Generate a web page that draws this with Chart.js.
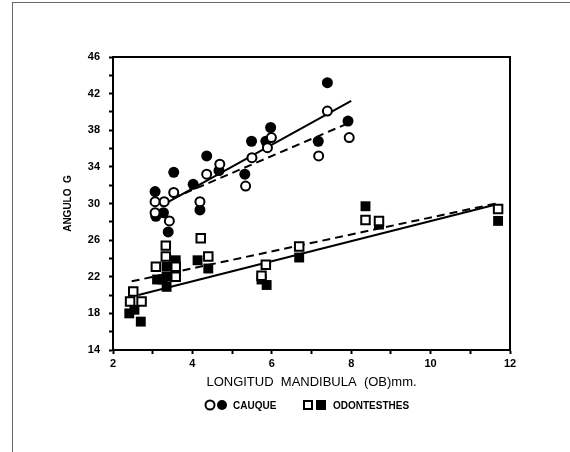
<!DOCTYPE html>
<html>
<head>
<meta charset="utf-8">
<script src="https://cdn.jsdelivr.net/npm/chart.js"></script>
<style>
  body { margin: 0; background: #fff; }
  #frame { position: absolute; left: 12px; top: 2px; width: 600px; height: 500px;
           border-left: 1px solid #666; border-top: 1px solid #666; }
  #wrap { position: absolute; left: 0; top: 0; width: 570px; height: 452px; }
</style>
</head>
<body>
<div id="frame"></div>
<div id="wrap"><canvas id="mycanvas" width="570" height="452"></canvas></div>
<script>
// Cauque (circles)
var cauqueOpenX = [3.06, 3.29, 3.53, 4.36, 4.19, 4.69, 5.34, 5.50, 5.89, 5.99, 7.18, 7.40, 7.95, 3.06, 3.42];
var cauqueOpenY = [30.2, 30.2, 31.2, 33.2, 30.2, 34.3, 31.9, 35.0, 36.1, 37.2, 35.2, 40.1, 37.2, 29.0, 28.1];
var cauqueFillX = [3.06, 3.53, 4.02, 4.36, 4.19, 4.67, 5.32, 5.49, 5.85, 5.97, 7.17, 7.40, 7.92, 3.08, 3.27, 3.39];
var cauqueFillY = [31.3, 33.4, 32.1, 35.2, 29.3, 33.6, 33.2, 36.8, 36.8, 38.3, 36.8, 43.2, 39.0, 28.6, 29.0, 26.9];

// Odontesthes (squares)
var odontOpenX = [2.51, 2.43, 2.72, 3.08, 3.33, 3.33, 3.58, 3.58, 4.21, 4.40, 5.74, 5.85, 6.69, 8.36, 8.70, 11.70];
var odontOpenY = [20.4, 19.3, 19.3, 23.1, 25.4, 24.2, 23.1, 22.0, 26.2, 24.2, 22.1, 23.3, 25.3, 28.2, 28.1, 29.4];
var odontFillX = [2.41, 2.54, 2.70, 3.11, 3.35, 3.35, 3.35, 3.58, 3.25, 4.13, 4.40, 5.74, 5.87, 6.69, 8.36, 8.70, 11.70];
var odontFillY = [18.0, 18.4, 17.1, 21.7, 23.1, 22.0, 20.9, 23.8, 21.7, 23.8, 22.9, 21.7, 21.1, 24.1, 29.7, 27.7, 28.1];

// fitted lines
var cauqueFitX = [3.2, 8.0];
var cauqueSolidY = [29.7, 41.2];
var cauqueDashY = [30.0, 38.9];
var odontSolidX = [2.64, 11.65];
var odontSolidY = [20.0, 29.9];
var odontDashX = [2.47, 11.65];
var odontDashY = [21.5, 30.0];

// ticks
var xTickLabels = [2, 4, 6, 8, 10, 12];
var yTickLabels = [14, 18, 22, 26, 30, 34, 38, 42, 46];

function pts(xs, ys) {
	var out = [];
	for (var i in xs) {
		out.push({x: xs[i], y: ys[i]});
	}
	return out;
}

var FONT = "'Liberation Sans', Arial, sans-serif";

var framePlugin = {
	id: 'frameAndKey',
	afterDraw: function(chart) {
		var ctx = chart.ctx;
		var a = chart.chartArea;
		ctx.save();
		ctx.strokeStyle = '#000';
		ctx.lineWidth = 2;
		ctx.beginPath();
		ctx.moveTo(a.left, a.top);
		ctx.lineTo(a.right, a.top);
		ctx.lineTo(a.right, a.bottom);
		ctx.stroke();

		// key below the axis title
		var y = 405;
		ctx.lineWidth = 2;
		ctx.fillStyle = '#fff';
		ctx.beginPath(); ctx.arc(210, y, 4.5, 0, Math.PI * 2); ctx.fill(); ctx.stroke();
		ctx.fillStyle = '#000';
		ctx.beginPath(); ctx.arc(222, y, 5, 0, Math.PI * 2); ctx.fill();
		ctx.fillStyle = '#fff';
		ctx.fillRect(304, y - 4, 8, 8); ctx.strokeRect(304, y - 4, 8, 8);
		ctx.fillStyle = '#000';
		ctx.fillRect(316, y - 5, 10, 10);
		ctx.font = 'bold 10px ' + FONT;
		ctx.textBaseline = 'middle';
		ctx.fillText('CAUQUE', 233, y + 1);
		ctx.fillText('ODONTESTHES', 333, y + 1);
		ctx.restore();
	}
};

var ctx = document.getElementById('mycanvas');

var chart = new Chart(ctx, {
	type: 'scatter',
	data: {
		datasets: [
			{
				label: 'Cauque',
				data: pts(cauqueOpenX, cauqueOpenY),
				pointStyle: 'circle', pointRadius: 4.5, borderWidth: 2,
				backgroundColor: '#fff', borderColor: '#000', order: 0
			},
			{
				label: 'Cauque (2)',
				data: pts(cauqueFillX, cauqueFillY),
				pointStyle: 'circle', pointRadius: 5.5, borderWidth: 0,
				backgroundColor: '#000', borderColor: '#000', order: 1
			},
			{
				label: 'Odontesthes',
				data: pts(odontOpenX, odontOpenY),
				pointStyle: 'rect', pointRadius: 6, borderWidth: 2,
				backgroundColor: '#fff', borderColor: '#000', order: 0
			},
			{
				label: 'Odontesthes (2)',
				data: pts(odontFillX, odontFillY),
				pointStyle: 'rect', pointRadius: 7, borderWidth: 0,
				backgroundColor: '#000', borderColor: '#000', order: 1
			},
			{
				type: 'line', label: 'fit1', data: pts(cauqueFitX, cauqueSolidY),
				borderColor: '#000', borderWidth: 2, pointRadius: 0, fill: false, order: 2
			},
			{
				type: 'line', label: 'fit2', data: pts(cauqueFitX, cauqueDashY),
				borderColor: '#000', borderWidth: 2, borderDash: [8, 5], pointRadius: 0, fill: false, order: 2
			},
			{
				type: 'line', label: 'fit3', data: pts(odontSolidX, odontSolidY),
				borderColor: '#000', borderWidth: 2, pointRadius: 0, fill: false, order: 2
			},
			{
				type: 'line', label: 'fit4', data: pts(odontDashX, odontDashY),
				borderColor: '#000', borderWidth: 2, borderDash: [8, 5], pointRadius: 0, fill: false, order: 2
			}
		]
	},
	options: {
		responsive: false,
		animation: false,
		layout: { padding: { left: 57, top: 57, right: 60, bottom: 59 } },
		plugins: {
			legend: { display: false },
			tooltip: { enabled: false }
		},
		scales: {
			x: {
				type: 'linear', min: 2, max: 12,
				afterFit: function(scale) { scale.height = 43; },
				border: { display: true, color: '#000', width: 2 },
				grid: { drawOnChartArea: false, drawTicks: true, tickLength: 4, tickWidth: 2, tickColor: '#000' },
				ticks: {
					stepSize: 1, padding: 3, color: '#000', maxRotation: 0, autoSkip: false,
					font: { family: FONT, size: 11, weight: 'bold' },
					callback: function(v) { return xTickLabels.indexOf(v) >= 0 ? String(v) : ''; }
				},
				title: {
					display: true, text: 'LONGITUD  MANDIBULA  (OB)mm.', color: '#000',
					font: { family: FONT, size: 13 }, padding: 3
				}
			},
			y: {
				type: 'linear', min: 14, max: 46,
				afterFit: function(scale) { scale.width = 56; },
				border: { display: true, color: '#000', width: 2 },
				grid: { drawOnChartArea: false, drawTicks: true, tickLength: 4, tickWidth: 2, tickColor: '#000' },
				ticks: {
					stepSize: 2, padding: 9, color: '#000', autoSkip: false,
					font: { family: FONT, size: 11, weight: 'bold' },
					callback: function(v) { return yTickLabels.indexOf(v) >= 0 ? String(v) : ''; }
				},
				title: {
					display: true, text: 'ANGULO  G', color: '#000',
					font: { family: FONT, size: 10, weight: 'bold' }, padding: 5
				}
			}
		}
	},
	plugins: [framePlugin]
});
</script>
</body>
</html>
